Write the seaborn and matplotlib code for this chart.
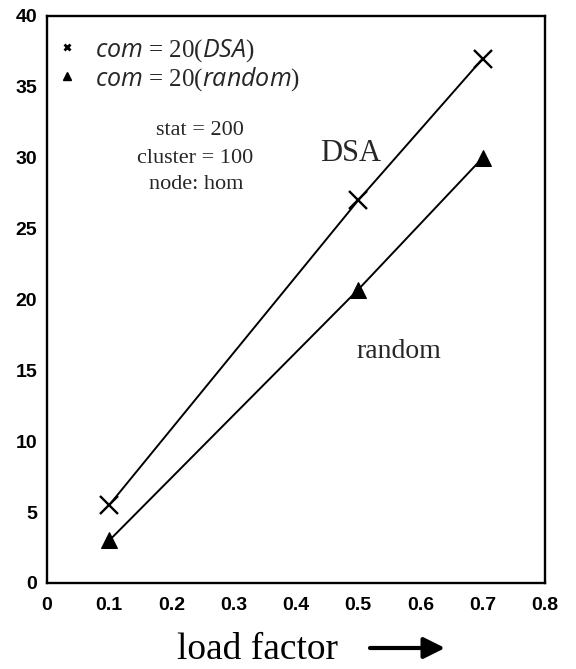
import matplotlib
matplotlib.use("Agg")
import matplotlib.pyplot as plt
from matplotlib.lines import Line2D
import seaborn as sns
import pandas as pd

load_factor = [0.1, 0.5, 0.7]
dsa_values = [5.5, 27.0, 37.0]
random_values = [3.0, 20.7, 30.0]
x_ticks = [0, 0.1, 0.2, 0.3, 0.4, 0.5, 0.6, 0.7, 0.8]
y_ticks = [0, 5, 10, 15, 20, 25, 30, 35, 40]

sns.set_theme(style="white")
plt.rcParams["font.family"] = ["Liberation Serif", "DejaVu Serif"]
plt.rcParams["mathtext.fontset"] = "custom"
plt.rcParams["mathtext.rm"] = "Liberation Serif"
plt.rcParams["mathtext.it"] = "Open Sans:italic"

df_dsa = pd.DataFrame({"load": load_factor, "value": dsa_values})
df_rand = pd.DataFrame({"load": load_factor, "value": random_values})

fig = plt.figure(figsize=(5.76, 6.69), dpi=100)
ax = fig.add_axes([0.0816, 0.1286, 0.8646, 0.8475])

sns.lineplot(data=df_dsa, x="load", y="value", marker="x", color="black",
             linewidth=1.4, markersize=13, markeredgewidth=1.7,
             markeredgecolor="black", ax=ax, legend=False)
sns.lineplot(data=df_rand, x="load", y="value", marker="^", color="black",
             linewidth=1.4, markersize=11, markeredgecolor="black",
             ax=ax, legend=False)

ax.set_xlim(0, 0.8)
ax.set_ylim(0, 40)
ax.set_xticks(x_ticks)
ax.set_xticklabels(["0" if t == 0 else f"{t:.1f}" for t in x_ticks])
ax.set_yticks(y_ticks)
ax.set_yticklabels([str(t) for t in y_ticks])
for lab in ax.get_xticklabels() + ax.get_yticklabels():
    lab.set_fontfamily("Liberation Sans")
    lab.set_fontweight("bold")
    lab.set_fontsize(14)
ax.tick_params(axis="x", length=0, pad=10, colors="black")
ax.tick_params(axis="y", length=0, pad=7, colors="black")
for s in ax.spines.values():
    s.set_color("black")
    s.set_linewidth(1.7)

ax.set_xlabel("")
ax.set_ylabel("")
fig.text(177 / 576, 10 / 669, "load factor", fontsize=27, va="baseline", ha="left", color="black")
ax.annotate("", xy=(445, 21), xytext=(370, 21),
            xycoords="figure pixels", textcoords="figure pixels",
            arrowprops=dict(arrowstyle="-|>", lw=3, color="black",
                            mutation_scale=32, shrinkA=0, shrinkB=0))

handles = [
    Line2D([], [], color="black", marker="x", linestyle="none", markersize=5, markeredgewidth=2.0),
    Line2D([], [], color="black", marker="^", linestyle="none", markersize=6),
]
labels = [r"$com$ = 20($DSA$)", r"$com$ = 20($random$)"]
leg = ax.legend(handles, labels, loc="upper left", frameon=False, fontsize=18,
                handlelength=0.6, handletextpad=0.8, borderaxespad=0.2,
                labelspacing=0.05, bbox_to_anchor=(-0.005, 0.99))

ax.text(0.245, 31.9, "stat = 200", ha="center", va="center", fontsize=16)
ax.text(0.238, 29.95, "cluster = 100", ha="center", va="center", fontsize=16)
ax.text(0.24, 28.1, "node: hom", ha="center", va="center", fontsize=16)
ax.text(0.487, 30.3, "DSA", ha="center", va="center", fontsize=22)
ax.text(0.565, 16.3, "random", ha="center", va="center", fontsize=20)

fig.savefig("out.png", dpi=100)
